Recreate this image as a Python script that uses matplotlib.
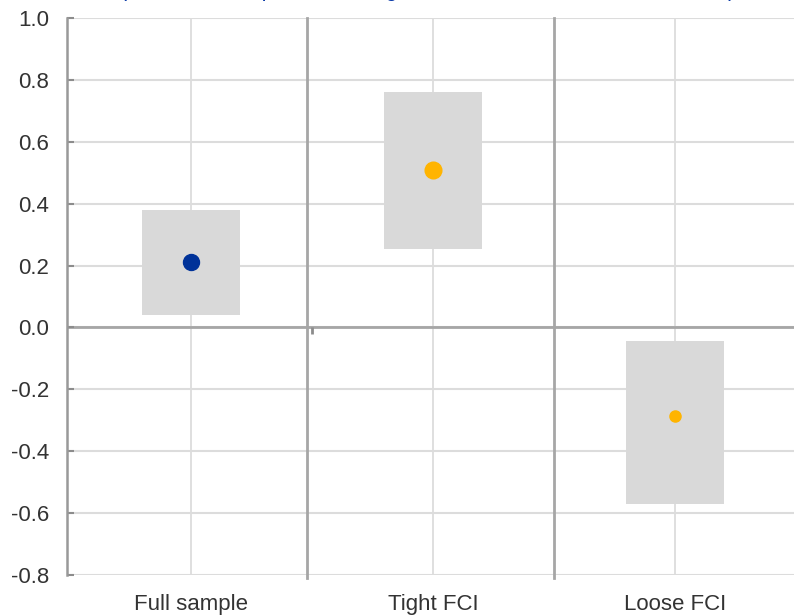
import matplotlib
matplotlib.use("Agg")
import matplotlib.pyplot as plt

plt.rcParams['font.family'] = ['Liberation Sans', 'DejaVu Sans']

# Estimates by financial-conditions regime
categories = ["Full sample", "Tight FCI", "Loose FCI"]
median = [0.21, 0.51, -0.285]
band_low = [0.04, 0.255, -0.57]
band_high = [0.38, 0.76, -0.045]
y_ticks = [-0.8, -0.6, -0.4, -0.2, 0.0, 0.2, 0.4, 0.6, 0.8, 1.0]

point_colors = ["#003299", "#ffb400", "#ffb400"]
point_sizes = [11.5, 12, 8]

fig = plt.figure(figsize=(7.94, 6.15), dpi=100)
ax = fig.add_axes([67 / 794, 40 / 615, 1 - 67 / 794, 557 / 615])

x = list(range(len(categories)))
ax.set_xlim(-0.51, 2.49)
ax.set_ylim(-0.8, 1.0)

# grid
grid_c = "#dcdcdc"
for yt in y_ticks:
    ax.axhline(yt, color=grid_c, lw=1.5, zorder=0)
for xi in x:
    ax.axvline(xi, color=grid_c, lw=1.3, zorder=0)

# regime separators
sep_c = "#a6a6a6"
for xs in [0.48, 1.5]:
    ax.axvline(xs, ymin=-0.006, ymax=1.0, color=sep_c, lw=2, zorder=1, clip_on=False)

# zero line with a small category tick
ax.axhline(0, color=sep_c, lw=2, zorder=1)
ax.vlines([0.5], -0.02, 0, color="#8c8c8c", lw=2, zorder=1)

# uncertainty bands
ax.bar(x, [h - l for h, l in zip(band_high, band_low)], bottom=band_low,
       width=0.405, color="#d9d9d9", zorder=2)

# point estimates
for xi, m, c, s in zip(x, median, point_colors, point_sizes):
    ax.plot([xi], [m], marker="o", ms=s, color=c, mec=c, ls="none", zorder=3)

for side in ["top", "right", "bottom"]:
    ax.spines[side].set_visible(False)
ax.spines["left"].set_color("#999999")
ax.spines["left"].set_linewidth(1.8)

ax.set_yticks(y_ticks)
ax.set_yticklabels([f"{v:.1f}" for v in y_ticks])
ax.tick_params(axis="y", direction="in", length=5, width=1.5, color="#8c8c8c",
               labelsize=16, labelcolor="#333333", pad=13)
ax.set_xticks(x)
ax.set_xticklabels(categories)
ax.tick_params(axis="x", length=0, labelsize=16, labelcolor="#333333", pad=14)

# subtitle line running off the top edge of the figure
fig.text(120 / 794, 1 + 4 / 615,
         "(total effect on percent change, median and 68% credible bands)",
         color="#0a3aa8", fontsize=15.5, ha="left", va="baseline")

fig.savefig("out.png", dpi=100)
